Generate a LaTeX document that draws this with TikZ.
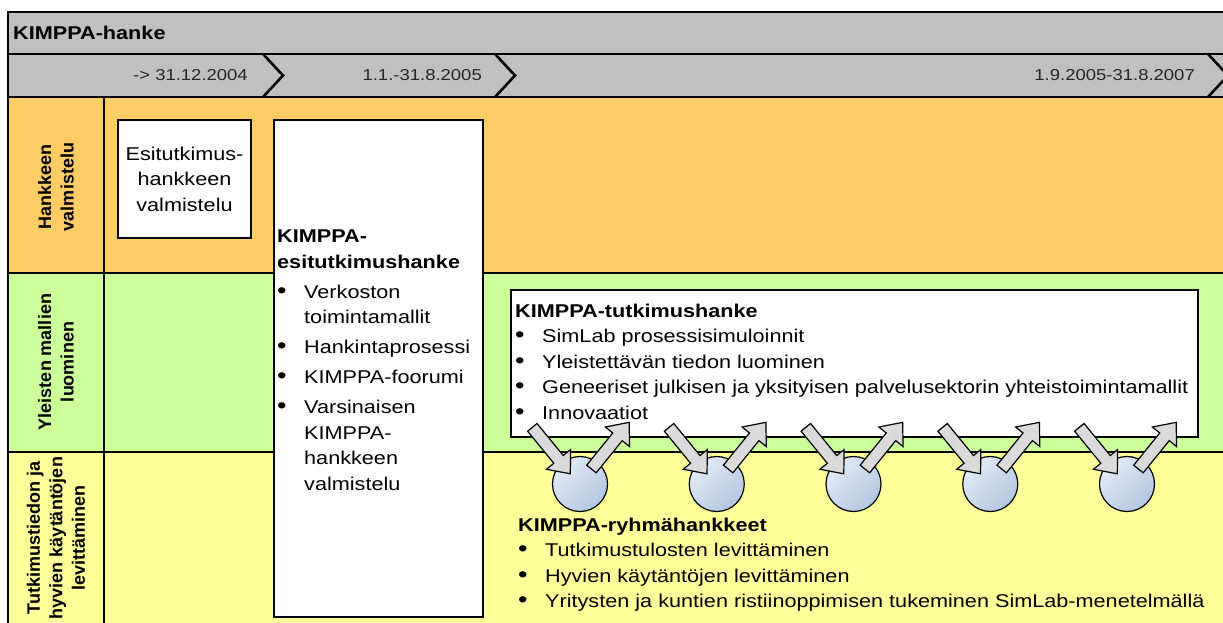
\documentclass[tikz,border=0pt]{standalone}
\usepackage{fontspec}
\setmainfont{Liberation Sans}
\newfontfamily\bodyfont{Liberation Sans}[FakeStretch=1.17]
\usetikzlibrary{shapes.arrows,calc}

\definecolor{headgray}{HTML}{C0C0C0}
\definecolor{preporange}{HTML}{FFCC66}
\definecolor{modelgreen}{HTML}{CCFF99}
\definecolor{spreadyellow}{HTML}{FFFF99}
\definecolor{arrowgray}{HTML}{DADADA}
\definecolor{balltop}{HTML}{E2EAF5}
\definecolor{ballbot}{HTML}{B3C7E2}

\newcommand{\bul}{\makebox[27pt][l]{\scalebox{1.25}{\textbullet}}}
\newcommand{\ind}{\hspace*{27pt}}

\tikzset{
  frame/.style={line width=2.6pt, line join=miter},
  body/.style={font=\bodyfont\fontsize{18.5}{25.5}\selectfont, inner sep=0pt, align=left},
  datetext/.style={font=\bodyfont\fontsize{15.8}{18}\selectfont, inner sep=0pt, text=black!85},
  rowhead/.style={rotate=90, align=center, inner sep=0pt, font=\bfseries\fontsize{18}{22.5}\selectfont},
  whitebox/.style={draw, fill=white, line width=2.6pt, inner sep=0pt},
  ball/.style={circle, draw, line width=1.2pt, minimum size=55pt, inner sep=0pt,
    top color=balltop, bottom color=ballbot, shading angle=45},
  blockarrow/.style={single arrow, draw, fill=arrowgray, line width=1.2pt, inner sep=5.5pt,
    minimum width=30pt, single arrow head extend=9.5pt, single arrow tip angle=80,
    minimum height=60pt, sloped, allow upside down}
}

\begin{document}
\begin{tikzpicture}[x=1pt,y=-1pt]
  \useasboundingbox (0,0) rectangle (1223,623);
  % bands
  \fill[headgray] (8,12) rectangle (1223,97);
  \fill[preporange] (8,97) rectangle (1223,273);
  \fill[modelgreen] (8,273) rectangle (1223,452);
  \fill[spreadyellow] (8,452) rectangle (1223,623);
  \draw[frame] (1223,12) -- (8,12) -- (8,623);
  \foreach \y in {54,97,273,452}
    \draw[frame] (8,\y) -- (1223,\y);
  \draw[frame] (104,97) -- (104,623);
  % phase chevrons
  \foreach \x in {263,495,1208}
    \draw[frame] (\x,54) -- (\x+20,75.5) -- (\x,97);

  \node[body, font=\bodyfont\bfseries\fontsize{18.5}{20}\selectfont, anchor=base west] (hanke) at (13,40) {KIMPPA-hanke};
  \node[datetext, anchor=base east] (date1) at (248,81) {-> 31.12.2004};
  \node[datetext, anchor=base east] (date2) at (482,81) {1.1.-31.8.2005};
  \node[datetext, anchor=base east] (date3) at (1195,81) {1.9.2005-31.8.2007};

  % row headers
  \node[rowhead] (prep) at (56,187) {Hankkeen\\valmistelu};
  \node[rowhead] (models) at (56,362) {Yleisten mallien\\luominen};
  \node[rowhead] (spread) at (56,538) {Tutkimustiedon ja\\hyvien käytäntöjen\\levittäminen};

  % boxes
  \node[whitebox, minimum width=133pt, minimum height=118pt, body, align=center] (prebox) at (184.5,179)
    {Esitutkimus-\\hankkeen\\valmistelu};
  \node[whitebox, minimum width=209pt, minimum height=497pt] (esitut) at (378.5,368.5) {};
  \node[body, anchor=north west] (esitutText) at (277,229.8)
    {\textbf{KIMPPA-}\\\textbf{esitutkimushanke}\\[4.5pt]
     \bul Verkoston\\\ind toimintamallit\\[4pt]
     \bul Hankintaprosessi\\[4.5pt]
     \bul KIMPPA-foorumi\\[5pt]
     \bul Varsinaisen\\\ind KIMPPA-\\\ind hankkeen\\\ind valmistelu};
  \node[whitebox, minimum width=687pt, minimum height=147pt] (tutk) at (854.5,363.5) {};
  \node[body, anchor=north west] (tutkText) at (515,303.8)
    {\textbf{KIMPPA-tutkimushanke}\\
     \bul SimLab prosessisimuloinnit\\
     \bul Yleistettävän tiedon luominen\\
     \bul Geneeriset julkisen ja yksityisen palvelusektorin yhteistoimintamallit\\
     \bul Innovaatiot};
  \node[body, anchor=north west] (ryhmaText) at (518,517.8)
    {\textbf{KIMPPA-ryhmähankkeet}\\
     \bul Tutkimustulosten levittäminen\\
     \bul Hyvien käytäntöjen levittäminen\\
     \bul Yritysten ja kuntien ristiinoppimisen tukeminen SimLab-menetelmällä};

  % group projects and their exchange with the research project
  \foreach \i in {1,...,5}
    \node[ball] (g\i) at ({580+136.75*(\i-1)},484) {};
  \foreach \i in {1,...,5} {
    \coordinate (gin\i) at ($(g\i)+(-50,-59.5)$);
    \coordinate (gout\i) at ($(g\i)+(47,-59)$);
    \path (gin\i) -- ($(g\i)+(-12,-13)$) node[blockarrow, midway] {};
    \path ($(g\i)+(9,-12)$) -- (gout\i) node[blockarrow, midway] {};
  }
\end{tikzpicture}
\end{document}
